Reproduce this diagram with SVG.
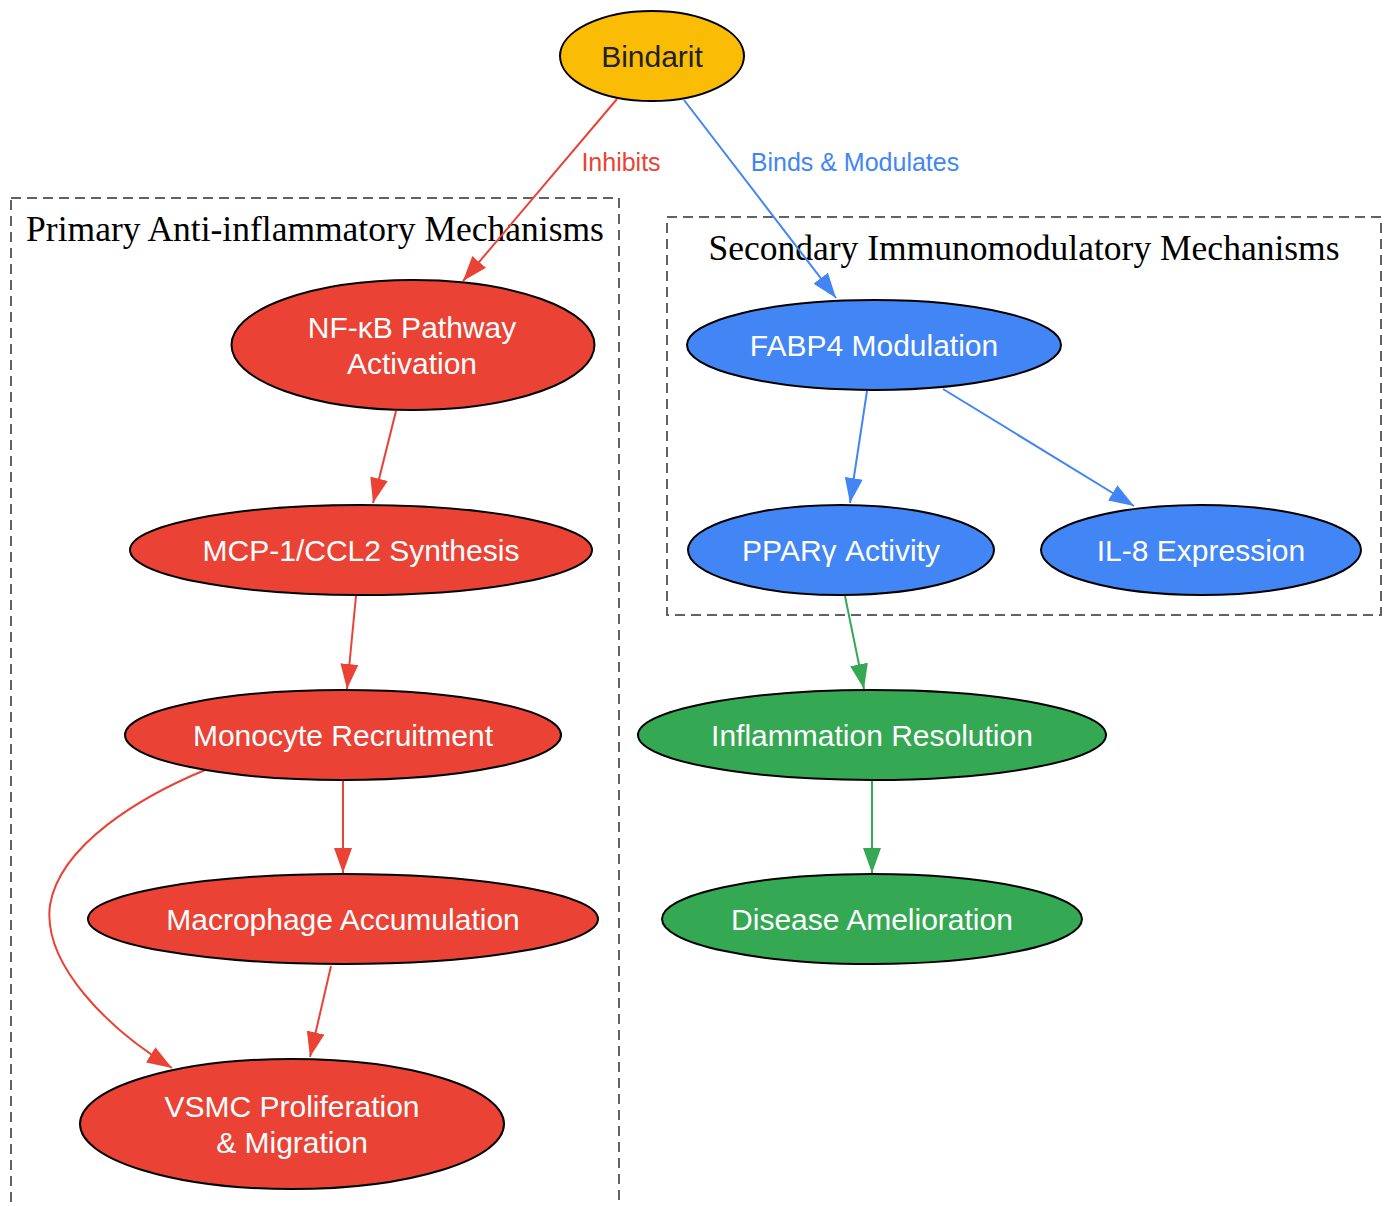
<svg xmlns="http://www.w3.org/2000/svg" width="1389" height="1206" viewBox="0 0 1389 1206">
<style>
.cl{fill:none;stroke:#5f6368;stroke-width:2;stroke-dasharray:10,6}
.ct{font-family:"Liberation Serif",serif;font-size:35.5px;fill:#000;text-anchor:middle}
.n{stroke:#000;stroke-width:2}
.t{font-family:"Liberation Sans",Arial,sans-serif;font-size:30px;text-anchor:middle;fill:#fff}
.el{font-family:"Liberation Sans",Arial,sans-serif;font-size:25px;text-anchor:middle}
.r{fill:#EA4335}.b{fill:#4285F4}.g{fill:#34A853}.y{fill:#FBBC05}
.er{stroke:#EA4335;stroke-width:2;fill:none;marker-end:url(#ar)}
.eb{stroke:#4285F4;stroke-width:2;fill:none;marker-end:url(#ab)}
.eg{stroke:#34A853;stroke-width:2;fill:none;marker-end:url(#ag)}
</style>
<defs>
<marker id="ar" markerUnits="userSpaceOnUse" markerWidth="26" markerHeight="18" refX="25" refY="9" orient="auto"><path d="M0,0 L25,9 L0,18 z" fill="#EA4335"/></marker>
<marker id="ab" markerUnits="userSpaceOnUse" markerWidth="26" markerHeight="18" refX="25" refY="9" orient="auto"><path d="M0,0 L25,9 L0,18 z" fill="#4285F4"/></marker>
<marker id="ag" markerUnits="userSpaceOnUse" markerWidth="26" markerHeight="18" refX="25" refY="9" orient="auto"><path d="M0,0 L25,9 L0,18 z" fill="#34A853"/></marker>
</defs>
<rect width="1389" height="1206" fill="#fff"/>
<g id="cluster_primary">
<rect class="cl" x="11" y="198" width="608" height="1030"/>
<text class="ct" x="315" y="241">Primary Anti-inflammatory Mechanisms</text>
</g>
<g id="cluster_secondary">
<rect class="cl" x="667" y="217" width="714" height="398"/>
<text class="ct" x="1024" y="260">Secondary Immunomodulatory Mechanisms</text>
</g>
<g id="connectors">
<path class="er" d="M617,99 L463,281"/>
<text class="el" x="621" y="171" fill="#EA4335">Inhibits</text>
<path class="eb" d="M684,100 L836,298"/>
<text class="el" x="855" y="171" fill="#4285F4">Binds &amp; Modulates</text>
<path class="er" d="M396,411 L373,503"/>
<path class="er" d="M356,596 L347,689"/>
<path class="er" d="M343,781 L343,873"/>
<path class="er" d="M205,770 C140,797 60,845 50,905 C42,965 110,1030 172,1068"/>
<path class="er" d="M331,966 L310,1057"/>
<path class="eb" d="M867,391 L850,503"/>
<path class="eb" d="M943,389 L1134,506"/>
<path class="eg" d="M845,596 L864,689"/>
<path class="eg" d="M872,781 L872,873"/>
</g>
<g id="bindarit"><ellipse class="n y" cx="652" cy="56" rx="92" ry="45"/><text class="t" x="652" y="67" style="fill:#202124">Bindarit</text></g>
<g id="nfkb"><ellipse class="n r" cx="413" cy="345" rx="181.5" ry="65"/><text class="t" x="412" y="338">NF-κB Pathway</text><text class="t" x="412" y="374">Activation</text></g>
<g id="mcp1"><ellipse class="n r" cx="361" cy="550" rx="231" ry="45"/><text class="t" x="361" y="561">MCP-1/CCL2 Synthesis</text></g>
<g id="monocyte"><ellipse class="n r" cx="343" cy="735" rx="218" ry="45"/><text class="t" x="343" y="746">Monocyte Recruitment</text></g>
<g id="macrophage"><ellipse class="n r" cx="343" cy="919" rx="255" ry="45"/><text class="t" x="343" y="930">Macrophage Accumulation</text></g>
<g id="vsmc"><ellipse class="n r" cx="292" cy="1124" rx="212" ry="65"/><text class="t" x="292" y="1117">VSMC Proliferation</text><text class="t" x="292" y="1153">&amp; Migration</text></g>
<g id="fabp4"><ellipse class="n b" cx="874" cy="345" rx="187" ry="45"/><text class="t" x="874" y="356">FABP4 Modulation</text></g>
<g id="pparg"><ellipse class="n b" cx="841" cy="550" rx="153" ry="45"/><text class="t" x="841" y="561">PPARγ Activity</text></g>
<g id="il8"><ellipse class="n b" cx="1201" cy="550" rx="160" ry="45"/><text class="t" x="1201" y="561">IL-8 Expression</text></g>
<g id="inflammation"><ellipse class="n g" cx="872" cy="735" rx="234" ry="45"/><text class="t" x="872" y="746">Inflammation Resolution</text></g>
<g id="disease"><ellipse class="n g" cx="872" cy="919" rx="210" ry="45"/><text class="t" x="872" y="930">Disease Amelioration</text></g>
</svg>
